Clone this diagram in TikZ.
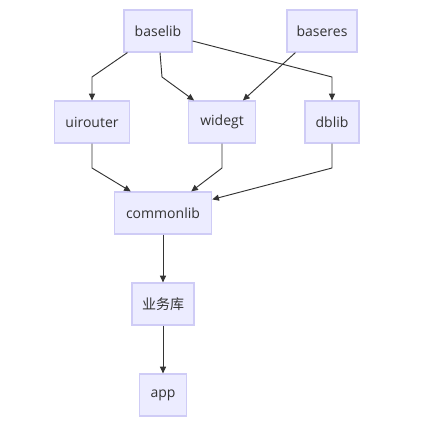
\documentclass[tikz,border=0pt]{standalone}
\usepackage{fontspec}
\setmainfont{Open Sans}
\newfontfamily\cjk{Noto Sans CJK SC}
\usepackage{xcolor}
\usetikzlibrary{
    positioning,
    arrows.meta,
}
\definecolor{libFill}{HTML}{ECECFF}
\definecolor{libLine}{HTML}{CFCCF6}
\definecolor{linkGray}{HTML}{333333}
\tikzset{
    lib/.style={draw=libLine,fill=libFill,line width=0.9pt,
                minimum height=31.5pt,inner sep=2pt,
                text=linkGray,font=\fontsize{10.5}{12}\selectfont},
    link/.style={draw=linkGray,line width=0.7pt,
                 -{Triangle[length=5pt,width=4.5pt]}},
}

\begin{document}
\begin{tikzpicture}[x=0.75pt,y=-0.75pt]
    \useasboundingbox[fill=white] (0,0) rectangle (422,435);
    %
        % Livello base
    \node[lib,minimum width=51pt]   (baselib)   at (158,31)  {baselib};
    \node[lib,minimum width=52.5pt] (baseres)   at (322,31)  {baseres};
    %
        % Livello intermedio
    \node[lib,minimum width=56pt]   (uirouter)  at (92,122)  {uirouter};
    \node[lib,minimum width=50pt]   (widegt)    at (222,122) {widegt};
    \node[lib,minimum width=40.5pt] (dblib)     at (332,122) {dblib};
    %
    \node[lib,minimum width=73pt]   (commonlib) at (163,213) {commonlib};
    \node[lib,minimum width=46.5pt] (business)  at (163,304) {\cjk 业务库};
    \node[lib,minimum width=35pt]   (app)       at (163,395) {app};
    %
        % Dipendenze
    \draw[link] ([xshift=3pt]baselib.south west) -- (92,77) -- (uirouter);
    \draw[link] ([xshift=1.5pt]baselib.south) -- (162,77)
        -- ([xshift=4.5pt]widegt.north west);
    \draw[link] ([yshift=-7.5pt]baselib.east) -- (332,77) -- (dblib);
    \draw[link] ([xshift=6.75pt]baseres.south west)
        -- ([xshift=-9.75pt]widegt.north east);
    %
    \draw[link] (uirouter) -- (92,168)
        -- ([xshift=12.75pt]commonlib.north west);
    \draw[link] (widegt) -- (222,168)
        -- ([xshift=-15.75pt]commonlib.north east);
    \draw[link] (dblib) -- (332,168)
        -- ([yshift=-6pt]commonlib.north east);
    %
    \draw[link] (commonlib) -- (business);
    \draw[link] (business) -- (app);
\end{tikzpicture}
\end{document}
